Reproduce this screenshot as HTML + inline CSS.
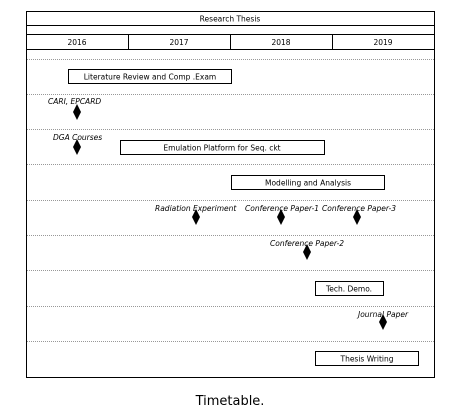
<!DOCTYPE html>
<html><head><style>body{margin:0;background:#fff}</style></head><body>
<svg width="459" height="412" xmlns="http://www.w3.org/2000/svg" font-family="DejaVu Sans, Liberation Sans, sans-serif">
<rect width="459" height="412" fill="#fff"/>
<rect x="26.5" y="11.5" width="408" height="366" fill="none" stroke="#000"/>
<line x1="26" y1="25.5" x2="434" y2="25.5" stroke="#000"/>
<line x1="26" y1="34.5" x2="434" y2="34.5" stroke="#000"/>
<line x1="26" y1="49.5" x2="434" y2="49.5" stroke="#000"/>
<g stroke="#000"><line x1="128.5" y1="34" x2="128.5" y2="49"/><line x1="230.5" y1="34" x2="230.5" y2="49"/><line x1="332.5" y1="34" x2="332.5" y2="49"/></g>
<g font-size="7.5" text-anchor="middle" fill="#000">
<text x="230" y="21.5">Research Thesis</text>
<text x="77" y="45">2016</text><text x="179" y="45">2017</text><text x="281" y="45">2018</text><text x="383" y="45">2019</text>
</g>
<g stroke="#777" stroke-width="0.7" stroke-dasharray="1,1">
<line x1="27" y1="59.5" x2="434" y2="59.5"/><line x1="27" y1="94.5" x2="434" y2="94.5"/><line x1="27" y1="129.5" x2="434" y2="129.5"/><line x1="27" y1="164.5" x2="434" y2="164.5"/><line x1="27" y1="200.5" x2="434" y2="200.5"/><line x1="27" y1="235.5" x2="434" y2="235.5"/><line x1="27" y1="270.5" x2="434" y2="270.5"/><line x1="27" y1="306.5" x2="434" y2="306.5"/><line x1="27" y1="341.5" x2="434" y2="341.5"/>
</g>
<g fill="none" stroke="#000">
<rect x="68.5" y="69.5" width="163" height="14"/>
<rect x="120.5" y="140.5" width="204" height="14"/>
<rect x="231.5" y="175.5" width="153" height="14"/>
<rect x="315.5" y="281.5" width="68" height="14"/>
<rect x="315.5" y="351.5" width="103" height="14"/>
</g>
<g font-size="7.5" text-anchor="middle" fill="#000">
<text x="150" y="79.5">Literature Review and Comp .Exam</text>
<text x="222" y="150.5">Emulation Platform for Seq. ckt</text>
<text x="308" y="185.5">Modelling and Analysis</text>
<text x="349" y="291.5">Tech. Demo.</text>
<text x="367" y="361.5">Thesis Writing</text>
</g>
<g fill="#000">
<path d="M77 104 L81 112 L77 120 L73 112Z"/>
<path d="M77 139 L81 147 L77 155 L73 147Z"/>
<path d="M196 209 L200 217 L196 225 L192 217Z"/>
<path d="M281 209 L285 217 L281 225 L277 217Z"/>
<path d="M357 209 L361 217 L357 225 L353 217Z"/>
<path d="M307 244 L311 252 L307 260 L303 252Z"/>
<path d="M383 314 L387 322 L383 330 L379 322Z"/>
</g>
<g font-size="7.5" font-style="italic" fill="#000">
<text x="48" y="104">CARI, EPCARD</text>
<text x="53" y="140">DGA Courses</text>
<text x="155" y="211">Radiation Experiment</text>
<text x="245" y="211">Conference Paper-1</text>
<text x="322" y="211">Conference Paper-3</text>
<text x="270" y="246">Conference Paper-2</text>
<text x="358" y="317">Journal Paper</text>
</g>
<text x="230" y="405" font-size="13" text-anchor="middle" fill="#000">Timetable.</text>
</svg>
</body></html>
